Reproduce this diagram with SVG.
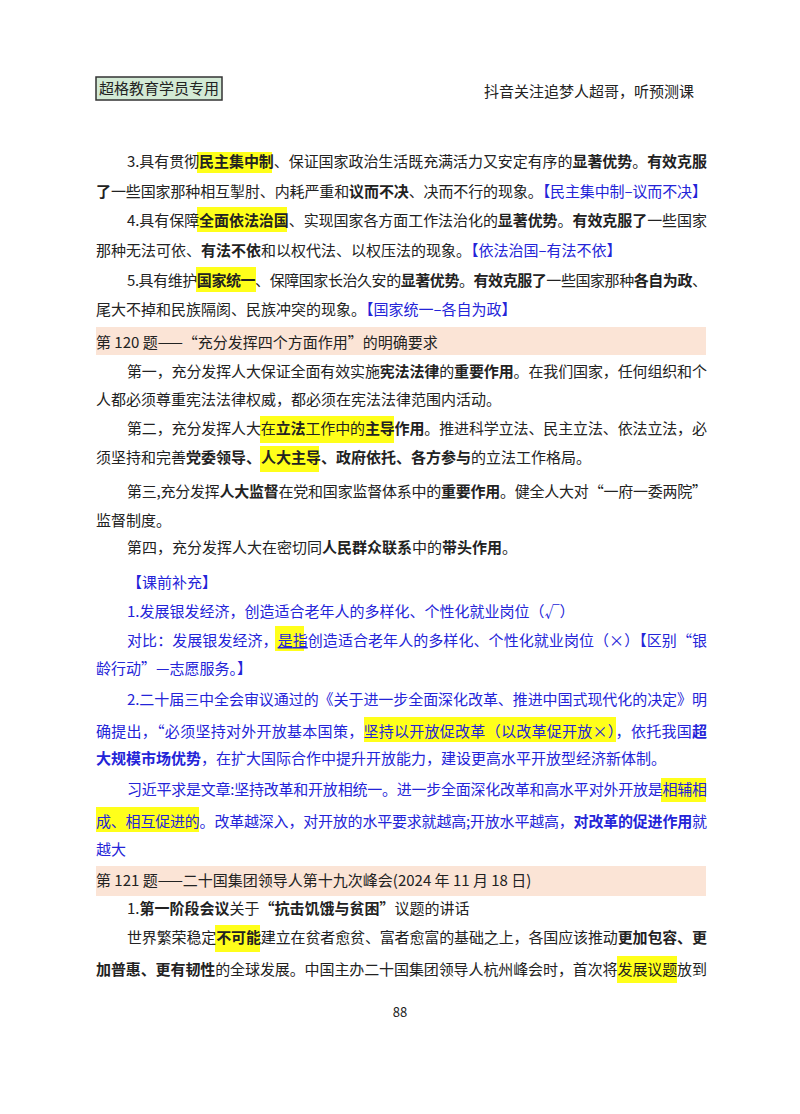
<svg xmlns="http://www.w3.org/2000/svg" width="800" height="1114" viewBox="0 0 800 1114">
<style>
text{font-family:"Noto Sans CJK SC","Liberation Sans",sans-serif;font-size:15px;fill:#222}
.b{font-weight:700}
.bl{fill:#2424d8}
.hl{fill:#ffff1a}
.band{fill:#fbe4d6}
</style>
<rect width="800" height="1114" fill="#fff"/>
<g id="header">
<rect x="96" y="77" width="126" height="23" fill="#d3ead5" stroke="#333" stroke-width="1.5"/>
<text x="159" y="94" text-anchor="middle">超格教育学员专用</text>
<text x="694" y="97" text-anchor="end">抖音关注追梦人超哥，听预测课</text>
</g>
<g id="highlights">
<rect class="hl" x="197" y="152" width="75" height="21"/>
<rect class="hl" x="197" y="207" width="90" height="25"/>
<rect class="hl" x="196" y="267" width="60" height="25"/>
<rect class="band" x="96" y="327" width="610" height="28"/>
<rect class="hl" x="260" y="416" width="134" height="27"/>
<rect class="hl" x="260" y="446" width="59" height="26"/>
<rect class="hl" x="275" y="626" width="29" height="25"/>
<rect class="hl" x="364" y="717" width="252" height="25"/>
<rect class="hl" x="661" y="778" width="45" height="24"/>
<rect class="hl" x="96" y="807" width="103" height="25"/>
<rect class="band" x="96" y="866" width="610" height="30"/>
<rect class="hl" x="215" y="925" width="45" height="27"/>
<rect class="hl" x="617" y="956" width="60" height="27"/>
</g>
<g id="body">
<text x="127" y="167" textLength="580" lengthAdjust="spacing">3.具有贯彻<tspan class="b">民主集中制</tspan>、保证国家政治生活既充满活力又安定有序的<tspan class="b">显著优势</tspan>。<tspan class="b">有效克服</tspan></text>
<text x="96" y="197" textLength="611" lengthAdjust="spacing"><tspan class="b">了</tspan>一些国家那种相互掣肘、内耗严重和<tspan class="b">议而不决</tspan>、决而不行的现象。<tspan class="bl">【民主集中制–议而不决】</tspan></text>
<text x="127" y="226" textLength="580" lengthAdjust="spacing">4.具有保障<tspan class="b">全面依法治国</tspan>、实现国家各方面工作法治化的<tspan class="b">显著优势</tspan>。<tspan class="b">有效克服了</tspan>一些国家</text>
<text x="96" y="256">那种无法可依、<tspan class="b">有法不依</tspan>和以权代法、以权压法的现象。<tspan class="bl">【依法治国–有法不依】</tspan></text>
<text x="127" y="286" textLength="580" lengthAdjust="spacing">5.具有维护<tspan class="b">国家统一</tspan>、保障国家长治久安的<tspan class="b">显著优势</tspan>。<tspan class="b">有效克服了</tspan>一些国家那种<tspan class="b">各自为政</tspan>、</text>
<text x="96" y="315">尾大不掉和民族隔阂、民族冲突的现象。<tspan class="bl">【国家统一–各自为政】</tspan></text>
<text x="96" y="348">第 120 题——“充分发挥四个方面作用”的明确要求</text>
<text x="127" y="377" textLength="580" lengthAdjust="spacing">第一，充分发挥人大保证全面有效实施<tspan class="b">宪法法律</tspan>的<tspan class="b">重要作用</tspan>。在我们国家，任何组织和个</text>
<text x="96" y="405">人都必须尊重宪法法律权威，都必须在宪法法律范围内活动。</text>
<text x="127" y="434" textLength="580" lengthAdjust="spacing">第二，充分发挥人大在<tspan class="b">立法</tspan>工作中的<tspan class="b">主导作用</tspan>。推进科学立法、民主立法、依法立法，必</text>
<text x="96" y="463">须坚持和完善<tspan class="b">党委领导、人大主导、政府依托、各方参与</tspan>的立法工作格局。</text>
<text x="127" y="497" textLength="580" lengthAdjust="spacing">第三,充分发挥<tspan class="b">人大监督</tspan>在党和国家监督体系中的<tspan class="b">重要作用</tspan>。健全人大对“一府一委两院”</text>
<text x="96" y="526">监督制度。</text>
<text x="127" y="553">第四，充分发挥人大在密切同<tspan class="b">人民群众联系</tspan>中的<tspan class="b">带头作用</tspan>。</text>
<text class="bl" x="127" y="588">【课前补充】</text>
<text class="bl" x="127" y="617">1.发展银发经济，创造适合老年人的多样化、个性化就业岗位（√）</text>
<text class="bl" x="127" y="646" textLength="580" lengthAdjust="spacing">对比：发展银发经济，<tspan style="text-decoration:underline">是指</tspan>创造适合老年人的多样化、个性化就业岗位（×）【区别“银</text>
<text class="bl" x="96" y="674">龄行动”—志愿服务。】</text>
<text class="bl" x="127" y="705" textLength="580" lengthAdjust="spacing">2.二十届三中全会审议通过的《关于进一步全面深化改革、推进中国式现代化的决定》明</text>
<text class="bl" x="96" y="737" textLength="611" lengthAdjust="spacing">确提出，“必须坚持对外开放基本国策，坚持以开放促改革（以改革促开放×），依托我国<tspan class="b">超</tspan></text>
<text class="bl" x="96" y="764"><tspan class="b">大规模市场优势</tspan>，在扩大国际合作中提升开放能力，建设更高水平开放型经济新体制。</text>
<text class="bl" x="127" y="795" textLength="580" lengthAdjust="spacing">习近平求是文章:坚持改革和开放相统一。进一步全面深化改革和高水平对外开放是相辅相</text>
<text class="bl" x="96" y="827" textLength="611" lengthAdjust="spacing">成、相互促进的。改革越深入，对开放的水平要求就越高;开放水平越高，<tspan class="b">对改革的促进作用</tspan>就</text>
<text class="bl" x="96" y="855">越大</text>
<text x="96" y="886">第 121 题——二十国集团领导人第十九次峰会(2024 年 11 月 18 日)</text>
<text x="127" y="914">1.<tspan class="b">第一阶段会议</tspan>关于<tspan class="b">“抗击饥饿与贫困”</tspan>议题的讲话</text>
<text x="127" y="943" textLength="580" lengthAdjust="spacing">世界繁荣稳定<tspan class="b">不可能</tspan>建立在贫者愈贫、富者愈富的基础之上，各国应该推动<tspan class="b">更加包容、更</tspan></text>
<text x="96" y="975" textLength="611" lengthAdjust="spacing"><tspan class="b">加普惠、更有韧性</tspan>的全球发展。中国主办二十国集团领导人杭州峰会时，首次将发展议题放到</text>
<text x="400" y="1017" text-anchor="middle" style="font-size:13px">88</text>
</g>
</svg>
